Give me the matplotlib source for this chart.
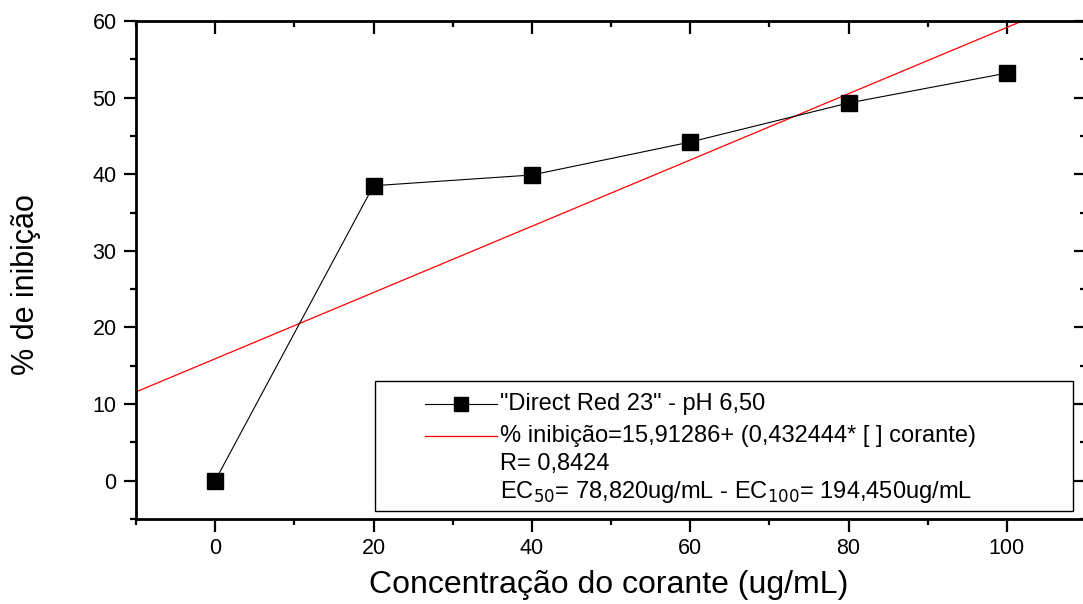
import numpy as np
import matplotlib
matplotlib.use("Agg")
import matplotlib.pyplot as plt
from matplotlib.ticker import MultipleLocator
from matplotlib.patches import Rectangle
from matplotlib.lines import Line2D

plt.rcParams["font.family"] = ["Liberation Sans", "DejaVu Sans"]

# dados
conc = [0, 20, 40, 60, 80, 100]
inibicao = [0.0, 38.5, 39.9, 44.2, 49.3, 53.2]

# ajuste linear (coeficientes do grafico)
a_fit = 15.91286
b_fit = 0.432444
x_fit = np.array([-10, 110])

W, H = 1083, 604
fig = plt.figure(figsize=(W / 100, H / 100), dpi=100)


def fx(px):
    return px / W


def fy(py):
    return 1 - py / H


ax = fig.add_axes([fx(136), fy(519), fx(1086) - fx(136), fy(21) - fy(519)])

ax.plot(x_fit, a_fit + b_fit * x_fit, color="red", lw=0.9, zorder=2)
ax.plot(conc, inibicao, "k-", lw=0.8, marker="s", ms=11, mfc="black", mec="black", zorder=3)

ax.set_xlim(-10, 110)
ax.set_ylim(-5, 60)

for s in ax.spines.values():
    s.set_linewidth(2)

ax.xaxis.set_major_locator(MultipleLocator(20))
ax.xaxis.set_minor_locator(MultipleLocator(10))
ax.yaxis.set_major_locator(MultipleLocator(10))
ax.yaxis.set_minor_locator(MultipleLocator(5))
ax.tick_params(which="major", direction="out", length=9, width=1.6, labelsize=15.5, pad=5)
ax.tick_params(which="minor", direction="out", length=4.5, width=1.6)

# eixos de cima e da direita com ticks para dentro
top = ax.secondary_xaxis("top")
top.xaxis.set_major_locator(MultipleLocator(20))
top.xaxis.set_minor_locator(MultipleLocator(10))
top.tick_params(which="major", direction="in", length=9, width=1.6, labeltop=False)
top.tick_params(which="minor", direction="in", length=4.5, width=1.6)
right = ax.secondary_yaxis("right")
right.yaxis.set_major_locator(MultipleLocator(10))
right.yaxis.set_minor_locator(MultipleLocator(5))
right.tick_params(which="major", direction="in", length=9, width=1.6, labelright=False)
right.tick_params(which="minor", direction="in", length=4.5, width=1.6)

fig.text(fx(609), fy(585), "Concentração do corante (ug/mL)", fontsize=23,
         ha="center", va="center")
fig.text(fx(26), fy(285), "% de inibição", fontsize=22, rotation=90,
         ha="center", va="center")

# legenda
fig.add_artist(Rectangle((fx(375), fy(511)), fx(1073) - fx(375), fy(381) - fy(511),
                         transform=fig.transFigure, fill=True, fc="white", ec="black",
                         lw=1, zorder=5))
fig.add_artist(Line2D([fx(425), fx(497)], [fy(404), fy(404)], transform=fig.transFigure,
                      color="black", lw=0.8, zorder=6))
fig.add_artist(Line2D([fx(461)], [fy(404)], transform=fig.transFigure,
                      color="black", marker="s", ms=10, zorder=6))
fig.add_artist(Line2D([fx(425), fx(497)], [fy(436), fy(436)], transform=fig.transFigure,
                      color="red", lw=0.9, zorder=6))
rows = [
    (404, '"Direct Red 23" - pH 6,50'),
    (436, "% inibição=15,91286+ (0,432444* [ ] corante)"),
    (464, "R= 0,8424"),
    (492, "EC$_{50}$= 78,820ug/mL - EC$_{100}$= 194,450ug/mL"),
]
for py, txt in rows:
    fig.text(fx(500), fy(py), txt, fontsize=17, ha="left", va="center", zorder=6)

fig.savefig("out.png", dpi=100)
